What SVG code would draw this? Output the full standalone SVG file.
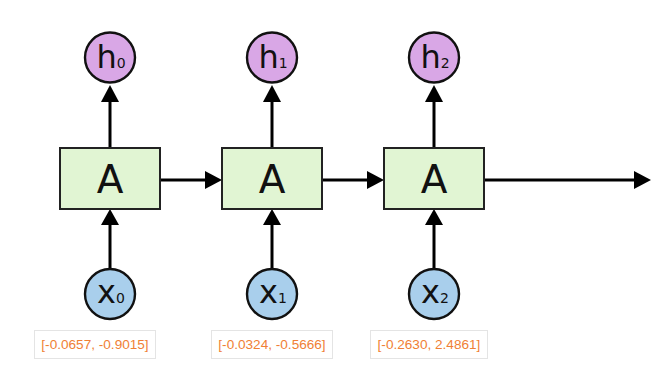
<svg xmlns="http://www.w3.org/2000/svg" width="667" height="375" viewBox="0 0 667 375">
<style>
.box{fill:#e1f5d3;stroke:#222;stroke-width:2}
.h{fill:#d9a7e6;stroke:#111;stroke-width:2.4}
.x{fill:#a9cfec;stroke:#111;stroke-width:2.4}
.lbl{fill:#fff;stroke:#e4e4e4;stroke-width:1}
.t{font-family:"DejaVu Sans",sans-serif;fill:#111}
.v{font-family:"Liberation Sans",Arial,sans-serif;font-size:13.6px;fill:#f07f35}
.c line{stroke:#000;stroke-width:3}
.c path{fill:#000}
</style>
<rect width="667" height="375" fill="#fff"/>
<g class="c" id="connectors">
<line x1="110" y1="148" x2="110" y2="100"/><path d="M101,102 L110,85 L119,102 Z"/>
<line x1="272" y1="148" x2="272" y2="100"/><path d="M263,102 L272,85 L281,102 Z"/>
<line x1="434" y1="148" x2="434" y2="100"/><path d="M425,102 L434,85 L443,102 Z"/>
<line x1="110" y1="269" x2="110" y2="222"/><path d="M101,225 L110,209 L119,225 Z"/>
<line x1="272" y1="269" x2="272" y2="222"/><path d="M263,225 L272,209 L281,225 Z"/>
<line x1="434" y1="269" x2="434" y2="222"/><path d="M425,225 L434,209 L443,225 Z"/>
<line x1="160" y1="180" x2="207" y2="180"/><path d="M205,171 L222,180 L205,189 Z"/>
<line x1="322" y1="180" x2="369" y2="180"/><path d="M367,171 L384,180 L367,189 Z"/>
<line x1="484" y1="180" x2="636" y2="180"/><path d="M634,171 L651,180 L634,189 Z"/>
</g>
<g id="A0"><rect class="box" x="60" y="148" width="100" height="61"/><text class="t" x="110" y="193" font-size="39" text-anchor="middle">A</text></g>
<g id="A1"><rect class="box" x="222" y="148" width="100" height="61"/><text class="t" x="272" y="193" font-size="39" text-anchor="middle">A</text></g>
<g id="A2"><rect class="box" x="384" y="148" width="100" height="61"/><text class="t" x="434" y="193" font-size="39" text-anchor="middle">A</text></g>
<g id="h0"><circle class="h" cx="110" cy="57.5" r="25"/><text class="t" x="111" y="68" font-size="32" text-anchor="middle">h<tspan font-size="14">0</tspan></text></g>
<g id="h1"><circle class="h" cx="272" cy="57.5" r="25"/><text class="t" x="273" y="68" font-size="32" text-anchor="middle">h<tspan font-size="14">1</tspan></text></g>
<g id="h2"><circle class="h" cx="434" cy="57.5" r="25"/><text class="t" x="435" y="68" font-size="32" text-anchor="middle">h<tspan font-size="14">2</tspan></text></g>
<g id="x0"><circle class="x" cx="110" cy="294" r="25"/><text class="t" x="111" y="303" font-size="32" text-anchor="middle">x<tspan font-size="14">0</tspan></text></g>
<g id="x1"><circle class="x" cx="272" cy="294" r="25"/><text class="t" x="273" y="303" font-size="32" text-anchor="middle">x<tspan font-size="14">1</tspan></text></g>
<g id="x2"><circle class="x" cx="434" cy="294" r="25"/><text class="t" x="435" y="303" font-size="32" text-anchor="middle">x<tspan font-size="14">2</tspan></text></g>
<g id="v0"><rect class="lbl" x="34.5" y="330.5" width="121" height="28"/><text class="v" x="95" y="349" text-anchor="middle">[-0.0657, -0.9015]</text></g>
<g id="v1"><rect class="lbl" x="211.5" y="330.5" width="121" height="28"/><text class="v" x="272" y="349" text-anchor="middle">[-0.0324, -0.5666]</text></g>
<g id="v2"><rect class="lbl" x="370.5" y="330.5" width="117" height="28"/><text class="v" x="429" y="349" text-anchor="middle">[-0.2630, 2.4861]</text></g>
</svg>
